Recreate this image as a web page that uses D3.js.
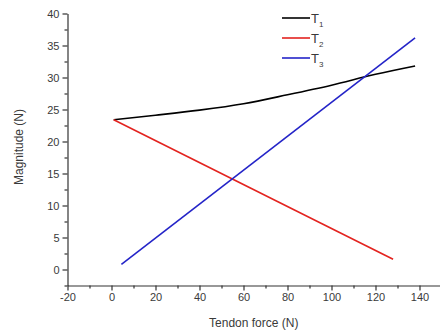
<!DOCTYPE html>
<html>
<head>
<meta charset="utf-8">
<script src="https://cdn.jsdelivr.net/npm/d3@7"></script>
<style>
  body { margin: 0; background: #fff; }
  text { font-family: 'Liberation Sans', Arial, sans-serif; }
</style>
</head>
<body>
<div id="chart"></div>
<script>
// Tendon force (N) vs magnitude (N)
const t1 = [[1, 23.4], [20, 24.1], [40, 24.9], [60, 25.9], [80, 27.3], [100, 28.8], [120, 30.5], [138, 31.8]];
const t2 = [[1, 23.4], [128, 1.6]];
const t3 = [[4.5, 0.8], [138, 36.2]];

const seriesNames = ['1', '2', '3'];
const seriesColours = ['#000000', '#e3231f', '#2424c8'];
const xTicks = [-20, 0, 20, 40, 60, 80, 100, 120, 140];
const yTicks = [0, 5, 10, 15, 20, 25, 30, 35, 40];

const WIDTH = 440;
const HEIGHT = 332;

const svg = d3.select('#chart').append('svg')
  .attr('width', WIDTH)
  .attr('height', HEIGHT);

const x = d3.scaleLinear().domain([-20, 150]).range([67.5, 441.5]);
const y = d3.scaleLinear().domain([-2.5, 40]).range([285.5, 13.5]);

const axisColour = '#333';
const textColour = '#3a3a3a';
const plain = d => String(d);

// bottom axis with minor ticks
const xMinor = d3.range(-10, 150, 20);
svg.append('g')
  .attr('transform', `translate(0, ${y(-2.5)})`)
  .call(d3.axisBottom(x).tickValues(xMinor).tickSize(3).tickFormat(''))
  .call(g => g.select('.domain').remove());

svg.append('g')
  .attr('transform', `translate(0, ${y(-2.5)})`)
  .call(d3.axisBottom(x).tickValues(xTicks).tickFormat(plain)
    .tickSize(5).tickSizeOuter(0).tickPadding(3));

// left axis with minor ticks
const yMinor = d3.range(-2.5, 40, 5);
svg.append('g')
  .attr('transform', `translate(${x(-20)}, 0)`)
  .call(d3.axisLeft(y).tickValues(yMinor).tickSize(3).tickFormat(''))
  .call(g => g.select('.domain').remove());

svg.append('g')
  .attr('transform', `translate(${x(-20)}, 0)`)
  .call(d3.axisLeft(y).tickValues(yTicks).tickFormat(plain)
    .tickSize(5).tickSizeOuter(0).tickPadding(3));

svg.selectAll('.tick line, .domain')
  .attr('stroke', axisColour)
  .attr('stroke-width', 1.2);
svg.selectAll('.tick text')
  .attr('fill', textColour)
  .attr('font-size', 11)
  .attr('font-family', "'Liberation Sans', Arial, sans-serif");

// axis titles
svg.append('text')
  .attr('x', (x(-20) + WIDTH) / 2)
  .attr('y', 327)
  .attr('text-anchor', 'middle')
  .attr('font-size', 12)
  .attr('fill', textColour)
  .text('Tendon force (N)');

svg.append('text')
  .attr('transform', `translate(23, 147) rotate(-90)`)
  .attr('text-anchor', 'middle')
  .attr('font-size', 12)
  .attr('fill', textColour)
  .text('Magnitude (N)');

// lines
const line = d3.line()
  .x(d => x(d[0]))
  .y(d => y(d[1]))
  .curve(d3.curveMonotoneX);

[t1, t2, t3].forEach((data, i) => {
  svg.append('path')
    .datum(data)
    .attr('fill', 'none')
    .attr('stroke', seriesColours[i])
    .attr('stroke-width', 1.6)
    .attr('stroke-linejoin', 'round')
    .attr('d', line);
});

// legend
const legend = svg.append('g').attr('transform', 'translate(282, 18)');
seriesNames.forEach((name, i) => {
  const row = legend.append('g').attr('transform', `translate(0, ${i * 20})`);
  row.append('line')
    .attr('x1', 0).attr('x2', 28)
    .attr('stroke', seriesColours[i])
    .attr('stroke-width', 1.6);
  const label = row.append('text')
    .attr('x', 29)
    .attr('dy', '0.35em')
    .attr('font-size', 13)
    .attr('fill', textColour)
    .text('T');
  label.append('tspan')
    .attr('font-size', 8)
    .attr('dy', 4)
    .text(name);
});
</script>
</body>
</html>
